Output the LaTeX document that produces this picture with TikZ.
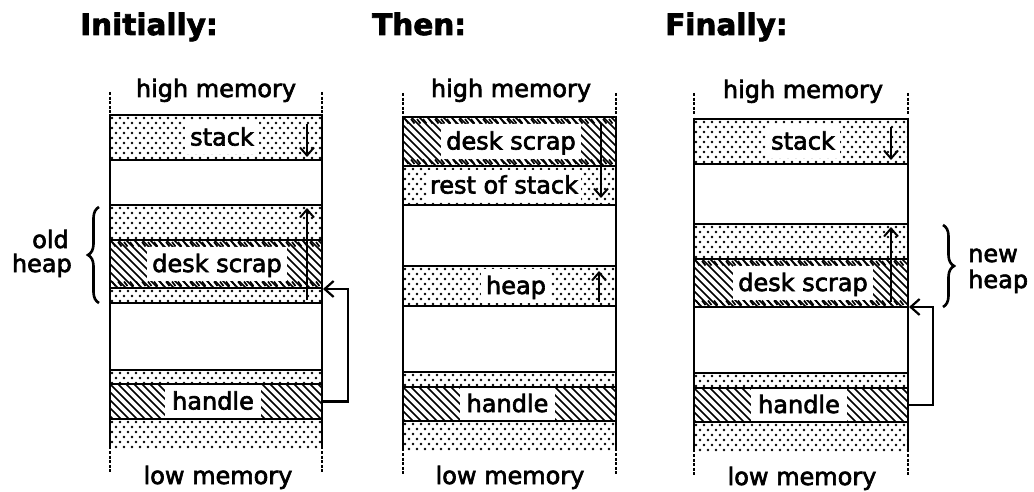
\documentclass[tikz,border=0pt]{standalone}
\usepackage{fontspec}
\setmainfont{DejaVu Sans}[FakeBold=2.6]
\newfontfamily\ttlfont{DejaVu Sans}[FakeBold=2.5]
\usetikzlibrary{arrows.meta,decorations.pathreplacing}

% dotted band: left, right, top, bottom
\newcommand\dband[4]{%
  \begin{scope}
  \clip (#1,#3) rectangle (#2,#4);
  \pgfmathtruncatemacro\nrows{(#4-#3)/5}
  \pgfmathtruncatemacro\ncols{(#2-#1)/8+1}
  \foreach \j in {0,...,\nrows} {\foreach \i in {0,...,\ncols} {
    \fill[dotmark] ({#1+2+8*\i+4*mod(\j,2)},{#3+3+5*\j}) circle (1.4);}}
  \end{scope}}
% hatched band: left, right, top, bottom
\newcommand\hband[4]{%
  \begin{scope}
  \clip (#1,#3) rectangle (#2,#4);
  \foreach \k in {0,...,36} {\draw[hatchline] ({#1-56+8*\k},#3) -- ++(60,60);}
  \end{scope}}
\newcommand\bandlines[3]{\foreach \yy in {#3} \draw[bandline] (#1,\yy) -- (#2,\yy);}
\newcommand\deskticks[4]{\foreach \i in {0,...,34} {%
  \draw[edgetick] ({#1+2+6*\i},#3+2) -- ++(3.5,4.5);
  \draw[edgetick] ({#1+2+6*\i},#4-6.5) -- ++(3.5,4.5);}}
\newcommand\colmarks[5]{%
  \draw[dashmark] (#1,#3) -- (#1,#3+21);
  \draw[dashmark] (#2,#3) -- (#2,#3+21);
  \draw[dashmark] (#1,#4) -- (#1,#4+22);
  \draw[dashmark] (#2,#4) -- (#2,#4+22);
  \draw[wall] (#1,#5-1.4) -- (#1,#4-2);
  \draw[wall] (#2,#5-1.4) -- (#2,#4-2);}

\tikzset{
  dotmark/.style={black},
  hatchline/.style={line width=1.7pt},
  lbl/.style={font=\fontsize{24}{28}\selectfont, inner sep=0pt},
  ttl/.style={font=\ttlfont\bfseries\fontsize{29.5}{32}\selectfont, anchor=base west, inner sep=0pt},
  bandlbl/.style={lbl, fill=white, text height=19pt, text depth=3pt, inner xsep=5pt},
  wall/.style={line width=2.8pt},
  bandline/.style={line width=2.8pt},
  edgetick/.style={line width=1.7pt},
  dashmark/.style={line width=2.8pt, dash pattern=on 3pt off 1.6pt},
  growarrow/.style={line width=2pt, -{Straight Barb[length=8pt,width=14pt,line width=2pt]}},
  ptr/.style={line width=2.6pt, -{Straight Barb[length=9pt,width=16pt,line width=2.2pt]}},
  brc/.style={line width=2.6pt, decorate, decoration={brace, amplitude=11pt}},
}

\begin{document}
\begin{tikzpicture}[x=1pt,y=-1pt]
\useasboundingbox (0,0) rectangle (1034,492);

% titles
\node[ttl] (t1) at (80,35) {Initially:};
\node[ttl] (t2) at (372,35) {Then:};
\node[ttl] (t3) at (665,35) {Finally:};

% ================= column 1 =================
\node[lbl, anchor=base] (hm1) at (216,97) {high memory};
\node[lbl, anchor=base] (lm1) at (218,484) {low memory};
\dband{110}{322}{115}{160}
\dband{110}{322}{205}{240}
\hband{110}{322}{240}{288}
\dband{110}{322}{288}{303}
\dband{110}{322}{370}{384}
\hband{110}{322}{384}{419}
\dband{110}{322}{419}{449}
\node[bandlbl, minimum height=33pt] (s1) at (222,137.5) {stack};
\node[bandlbl, minimum height=34pt] (d1) at (217,264) {desk scrap};
\node[bandlbl, minimum height=33pt, inner xsep=7pt] (h1) at (213,401.5) {handle};
\deskticks{110}{322}{240}{288}
\draw[growarrow] (307,124) -- (307,157);
\draw[growarrow] (307,300) -- (307,208);
\bandlines{110}{322}{115,160,205,240,288,303,370,384,419}
\colmarks{110}{322}{92}{451}{115}
\coordinate (p1a) at (322,401.5);
\coordinate (p1b) at (323,289);
\draw[ptr] (p1a) -- ++(26,0) |- (p1b);
\draw[brc] (99,303) -- (99,207);
\node[lbl, anchor=base east] (o1) at (69,248) {old};
\node[lbl, anchor=base east] (o2) at (72,272) {heap};

% ================= column 2 =================
\node[lbl, anchor=base] (hm2) at (511,97) {high memory};
\node[lbl, anchor=base] (lm2) at (510,484) {low memory};
\hband{403}{616}{117}{166}
\dband{403}{616}{166}{205}
\dband{403}{616}{266}{306}
\dband{403}{616}{372}{387}
\hband{403}{616}{387}{421}
\dband{403}{616}{421}{451}
\node[bandlbl, minimum height=35pt] (d2) at (511,141.5) {desk scrap};
\node[bandlbl, minimum height=31pt, inner xsep=3pt] (r2) at (504,185.5) {rest of stack};
\node[bandlbl, minimum height=34pt] (hp2) at (516,286) {heap};
\node[bandlbl, minimum height=32pt, inner xsep=7pt] (h2) at (507.5,404) {handle};
\deskticks{403}{616}{117}{166}
\draw[growarrow] (601,123) -- (601,198);
\draw[growarrow] (599,302) -- (599,271);
\bandlines{403}{616}{117,166,205,266,306,372,387,421}
\colmarks{403}{616}{93}{453}{117}

% ================= column 3 =================
\node[lbl, anchor=base] (hm3) at (803,98) {high memory};
\node[lbl, anchor=base] (lm3) at (802,485) {low memory};
\dband{694}{908}{119}{164}
\dband{694}{908}{224}{259}
\hband{694}{908}{259}{307}
\dband{694}{908}{373}{388}
\hband{694}{908}{388}{422}
\dband{694}{908}{422}{452}
\node[bandlbl, minimum height=33pt] (s3) at (803,141.5) {stack};
\node[bandlbl, minimum height=34pt] (d3) at (803,283) {desk scrap};
\node[bandlbl, minimum height=32pt, inner xsep=7pt] (h3) at (799,405) {handle};
\deskticks{694}{908}{259}{307}
\draw[growarrow] (891,127) -- (891,160);
\draw[growarrow] (891,302) -- (891,227);
\bandlines{694}{908}{119,164,224,259,307,373,388,422}
\colmarks{694}{908}{93}{454}{119}
\coordinate (p3a) at (908,405);
\coordinate (p3b) at (909,307);
\draw[ptr] (p3a) -- ++(25,0) |- (p3b);
\draw[brc] (943,225) -- (943,307);
\node[lbl, anchor=base west] (n1) at (968,262) {new};
\node[lbl, anchor=base west] (n2) at (968,288) {heap};
\end{tikzpicture}
\end{document}
